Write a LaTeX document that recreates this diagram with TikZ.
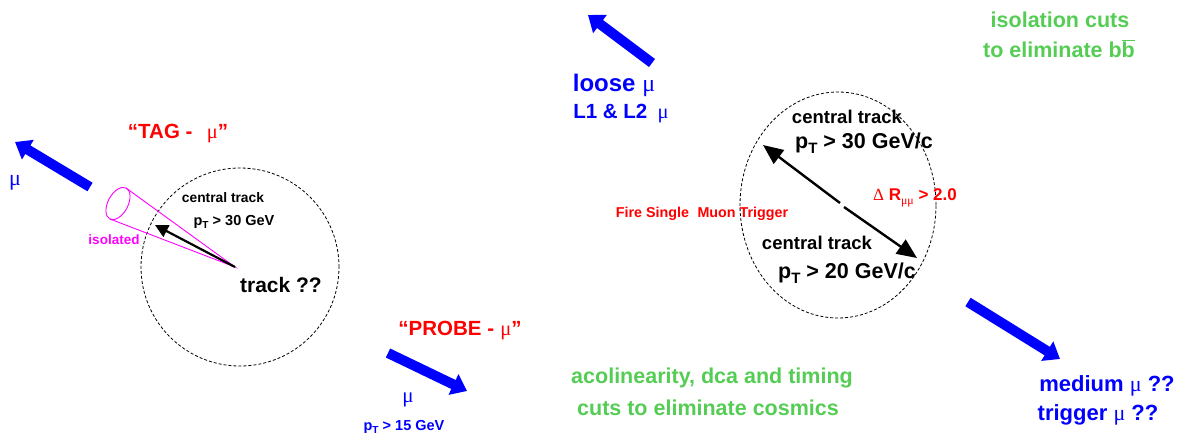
\documentclass[tikz,border=0pt]{standalone}
\usepackage{fontspec}
\setmainfont{Liberation Sans}
\newfontfamily\grk{Liberation Serif}
\usetikzlibrary{arrows.meta,shapes.geometric}
\definecolor{mublue}{RGB}{0,0,255}
\definecolor{mured}{RGB}{255,0,0}
\definecolor{mugreen}{RGB}{85,205,85}
\definecolor{mumag}{RGB}{255,0,255}
\newcommand\fs[1]{\fontsize{#1}{#1}\selectfont}
\newcommand\lsub[1]{\raisebox{-0.45ex}{\scalebox{0.7}{#1}}}
\begin{document}
\begin{tikzpicture}[x=1pt,y=-1pt,
  lbl/.style={inner sep=0pt, anchor=base},
  greentxt/.style={lbl, text=mugreen, font=\bfseries\fs{21.5}},
  bluetxt/.style={lbl, text=mublue, font=\bfseries\fs{22}},
  redtxt/.style={lbl, text=mured, font=\bfseries\fs{20.5}},
  blacktxt/.style={lbl, text=black, font=\bfseries\fs{18.5}},
  bigmu/.style={line width=10pt, mublue, -{Triangle[length=15pt,width=22pt]}},
  trackarrow/.style={line width=2.4pt, black, -{Triangle[length=20pt,width=17pt]}},
  region/.style={draw=black, line width=0.8pt, dash pattern=on 3pt off 2pt},
  cone/.style={draw=mumag, line width=0.9pt}
]
\useasboundingbox (0,0) rectangle (1201,440);

% ---------- left: tag muon ----------
\coordinate (tagtail) at (90,187);
\coordinate (taghead) at (15,142);
\draw[bigmu] (tagtail) -- (taghead);
\node[bluetxt, font=\fs{22}] (tagmu) at (15,185) {\grk μ};
\node[redtxt] (tag) at (178,138) {“TAG -\hspace{0.7em}{\mdseries\grk μ}”};

\node[region, circle, minimum size=198pt, inner sep=0pt] (lcirc) at (240,267) {};

\coordinate (apex) at (235,267);
\coordinate (conetop) at (126,188);
\coordinate (conebot) at (110,219);
\draw[cone] (118,203.5) circle[x radius=17.5, y radius=10, rotate=62];
\draw[cone] (conetop) -- (apex) -- (conebot);
\coordinate (ltip) at (155,225);
\draw[trackarrow, -{Triangle[length=13pt,width=13pt]}, line width=2.2pt] (apex) -- (ltip);

\node[lbl, text=mumag, font=\bfseries\fs{13.5}] (isol) at (114,244) {isolated};
\node[lbl, font=\bfseries\fs{13.8}] (lct) at (223,202) {central track};
\node[lbl, font=\bfseries\fs{14.5}] (lpt) at (234,225) {p\lsub{T} > 30 GeV};
\node[lbl, font=\bfseries\fs{21}] (ltrack) at (281,292) {track ??};

% ---------- probe muon ----------
\node[redtxt] (probe) at (460,335) {“PROBE -\hspace{0.3em}{\mdseries\grk μ}”};
\coordinate (ptail) at (388,353);
\coordinate (phead) at (467,391);
\draw[bigmu] (ptail) -- (phead);
\node[bluetxt, font=\fs{21}] (pmu) at (408,402) {\grk μ};
\node[lbl, text=mublue, font=\bfseries\fs{14.5}] (ppt) at (404,430) {p\lsub{T} > 15 GeV};

% ---------- top: loose muon ----------
\coordinate (ttail) at (652,63);
\coordinate (thead) at (588,15);
\draw[bigmu] (ttail) -- (thead);
\node[bluetxt, font=\bfseries\fs{24}] (loose) at (614,91) {loose {\mdseries\grk μ}};
\node[bluetxt, font=\bfseries\fs{20.5}] (l12) at (621,118) {L1 \& L2\hspace{0.5em}{\mdseries\grk μ}};

% ---------- right: two central tracks ----------
\node[region, ellipse, minimum width=196pt, minimum height=226pt, inner sep=0pt] (rell) at (838,205) {};
\coordinate (gapa) at (840,203);
\coordinate (gapb) at (844,207);
\coordinate (rtipa) at (763,145);
\coordinate (rtipb) at (917,258);
\draw[trackarrow] (gapa) -- (rtipa);
\draw[trackarrow] (gapb) -- (rtipb);

\node[blacktxt] (rct1) at (847,123) {central track};
\node[blacktxt, font=\bfseries\fs{21.5}] (rpt1) at (864,148) {p\lsub{T} > 30 GeV/c};
\node[blacktxt] (rct2) at (817,249) {central track};
\node[blacktxt, font=\bfseries\fs{21.5}] (rpt2) at (847,278) {p\lsub{T} > 20 GeV/c};
\node[lbl, text=mured, font=\bfseries\fs{17}] (dr) at (915,200) {{\mdseries\grk Δ} R\lsub{\mdseries\grk μμ} > 2.0};
\node[lbl, text=mured, font=\bfseries\fs{14.3}] (fire) at (702,217) {Fire Single\hspace{0.6em}Muon Trigger};

\node[greentxt] (iso1) at (1060,27) {isolation cuts};
\node[greentxt] (iso2) at (1059,57) {to eliminate b$\overline{\mbox{b}}$};

\coordinate (rtail) at (968,302);
\coordinate (rhead) at (1060,359);
\draw[bigmu] (rtail) -- (rhead);
\node[bluetxt] (med) at (1107,391) {medium {\mdseries\grk μ} ??};
\node[bluetxt] (trig) at (1098,420) {trigger {\mdseries\grk μ} ??};

\node[greentxt] (acol) at (712,383) {acolinearity, dca and timing};
\node[greentxt] (cosm) at (708,415) {cuts to eliminate cosmics};
\end{tikzpicture}
\end{document}
